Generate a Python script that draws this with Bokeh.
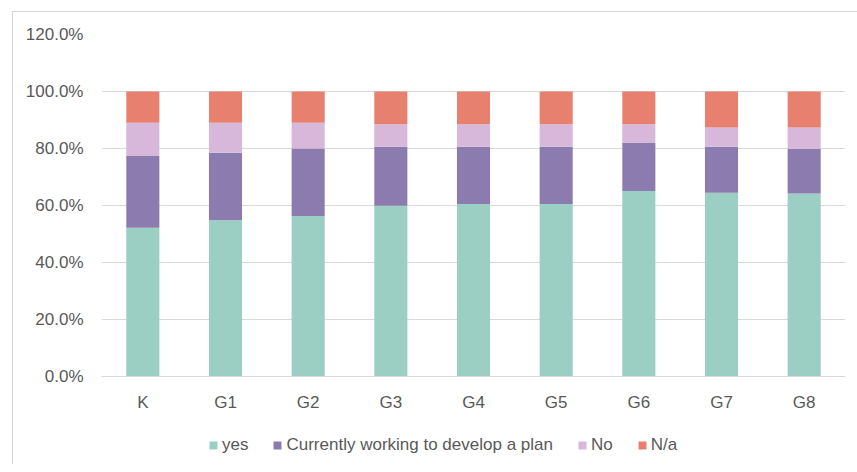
from bokeh.plotting import figure
from bokeh.layouts import column
from bokeh.models import ColumnDataSource, PrintfTickFormatter, Legend, LegendItem, FixedTicker, Range1d
from bokeh.embed import file_html
from bokeh.resources import INLINE

# Share of schools by grade with a plan, stacked to 100%
grades = ["K", "G1", "G2", "G3", "G4", "G5", "G6", "G7", "G8"]
yes = [52.2, 54.8, 56.3, 59.9, 60.5, 60.5, 65.1, 64.5, 64.2]
working = [25.2, 23.7, 23.7, 20.7, 20.1, 20.1, 16.8, 16.1, 15.7]
no = [11.6, 10.5, 9.0, 7.9, 7.9, 7.9, 6.6, 6.8, 7.5]
na = [11.0, 11.0, 11.0, 11.5, 11.5, 11.5, 11.5, 12.6, 12.6]

series = ["yes", "working", "no", "na"]
labels = ["yes", "Currently working to develop a plan", "No", "N/a"]
colors = ["#9BCFC3", "#8C7BAE", "#D7B8DA", "#E8806F"]
y_ticks = [0, 20, 40, 60, 80, 100, 120]

source = ColumnDataSource(dict(grade=grades, yes=yes, working=working, no=no, na=na))

FONT = "Liberation Sans"
SIZE = "17px"
GREY = "#595959"
W = 844
LEFT = 88
RIGHT = 12

p = figure(
    x_range=grades,
    y_range=Range1d(0, 120),
    width=W,
    height=412,
    output_backend="svg",
    toolbar_location=None,
    min_border_left=LEFT,
    min_border_right=RIGHT,
    min_border_top=22,
    min_border_bottom=48,
)

p.vbar_stack(series, x="grade", width=0.4, color=colors, line_color=None, source=source)

p.outline_line_color = None
p.background_fill_color = "white"
p.border_fill_color = "white"

p.xgrid.grid_line_color = None
p.ygrid.grid_line_color = "#d9d9d9"
p.ygrid.grid_line_width = 1

p.yaxis.ticker = FixedTicker(ticks=y_ticks)
p.yaxis.formatter = PrintfTickFormatter(format="%.1f%%")
p.yaxis.axis_line_color = None
p.yaxis.major_tick_line_color = None
p.yaxis.minor_tick_line_color = None
p.yaxis.major_label_standoff = 12
p.yaxis.major_label_text_font = FONT
p.yaxis.major_label_text_font_size = SIZE
p.yaxis.major_label_text_color = GREY

p.xaxis.axis_line_color = "#d9d9d9"
p.xaxis.major_tick_line_color = None
p.xaxis.minor_tick_line_color = None
p.xaxis.major_label_standoff = 10
p.xaxis.major_label_text_font = FONT
p.xaxis.major_label_text_font_size = SIZE
p.xaxis.major_label_text_color = GREY
p.x_range.range_padding = 0

# Legend strip underneath the bars; swatch glyphs carry the series colours
lp = figure(
    width=W,
    height=40,
    x_range=Range1d(0, 1),
    y_range=Range1d(0, 1),
    x_axis_type=None,
    y_axis_type=None,
    output_backend="svg",
    toolbar_location=None,
    min_border_left=LEFT,
    min_border_right=RIGHT,
    min_border_top=0,
    min_border_bottom=0,
)
lp.outline_line_color = None
lp.xgrid.visible = False
lp.ygrid.visible = False
swatches = [lp.vbar(x=[0], top=[0], width=0, color=c, line_color=None) for c in colors]

legend = Legend(
    items=[LegendItem(label=lab, renderers=[r]) for lab, r in zip(labels, swatches)],
    orientation="horizontal",
    location=(107, 9),
    glyph_width=10,
    glyph_height=10,
    label_standoff=4,
    spacing=24,
    margin=0,
    padding=4,
    border_line_color=None,
    background_fill_alpha=0,
    label_text_font=FONT,
    label_text_font_size=SIZE,
    label_text_color=GREY,
)
lp.add_layout(legend, "center")

layout = column(p, lp, spacing=0)
layout.styles = {
    "margin-left": "12px",
    "margin-top": "11px",
    "border-left": "1px solid #d6d6d6",
    "border-top": "1px solid #d6d6d6",
}

open("out.html", "w").write(file_html(layout, INLINE))
